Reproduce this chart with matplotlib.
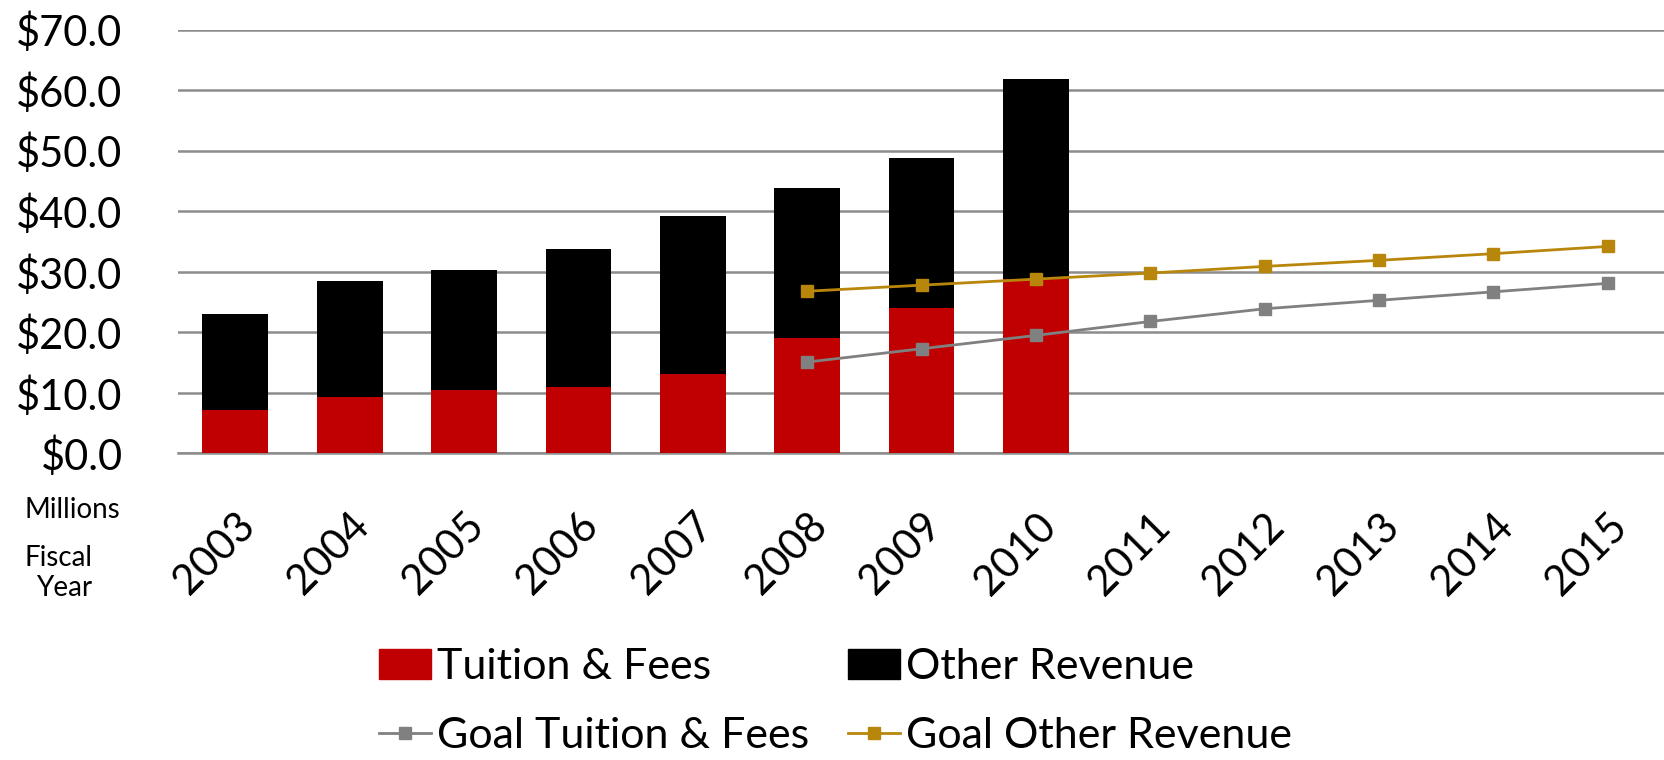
import matplotlib
matplotlib.use("Agg")
import matplotlib.pyplot as plt
import matplotlib.transforms as mtransforms
import numpy as np
from matplotlib.lines import Line2D
from matplotlib.patches import Patch

years = ["2003", "2004", "2005", "2006", "2007", "2008", "2009", "2010",
         "2011", "2012", "2013", "2014", "2015"]
tuition = [7.2, 9.3, 10.5, 11.0, 13.1, 19.1, 24.1, 28.9]
other = [15.9, 19.2, 19.8, 22.7, 26.2, 24.8, 24.7, 32.9]
goal_tuition_years = ["2008", "2009", "2010", "2011", "2012", "2013", "2014", "2015"]
goal_tuition = [15.1, 17.3, 19.5, 21.8, 23.9, 25.3, 26.7, 28.1]
goal_other = [26.8, 27.8, 28.8, 29.8, 30.9, 31.9, 33.0, 34.2]
yticks = [0, 10, 20, 30, 40, 50, 60, 70]

plt.rcParams['font.family'] = ['Lato', 'DejaVu Sans']

fig = plt.figure(figsize=(16.65, 7.6), dpi=100)
ax = fig.add_axes([0.107, 0.4033, 0.893, 0.5577])

x = np.arange(len(years))
xb = x[:len(tuition)]
ax.bar(xb, tuition, width=0.575, color='#C00000', zorder=3)
ax.bar(xb, other, width=0.575, bottom=tuition, color='#000000', zorder=3)

xg = [years.index(y) for y in goal_tuition_years]
ax.plot(xg, goal_tuition, color='#808080', lw=2.0, marker='s', ms=8, zorder=4)
ax.plot(xg, goal_other, color='#B8860B', lw=2.0, marker='s', ms=8, zorder=4)

ax.set_xlim(-0.5, len(years) - 0.5)
ax.set_ylim(0, 70)
ax.set_yticks(yticks)
ax.set_yticklabels([f"${v:.1f}" for v in yticks], fontsize=30)
ax.set_xticks(x)
ax.set_xticklabels(years, fontsize=30, rotation=45, ha='right', va='top',
                   rotation_mode='anchor')
offset = mtransforms.ScaledTranslation(-0.11, 0, fig.dpi_scale_trans)
for lab in ax.get_xticklabels():
    lab.set_transform(lab.get_transform() + offset)
ax.tick_params(axis='both', length=0)
ax.tick_params(axis='x', pad=38)
ax.tick_params(axis='y', pad=40)
ax.grid(axis='y', color='#8C8C8C', lw=1.8, zorder=0)
for s in ['top', 'right', 'left']:
    ax.spines[s].set_visible(False)
ax.spines['bottom'].set_color('#8C8C8C')
ax.spines['bottom'].set_linewidth(1.8)

fig.text(0.0721, 0.3184, "Millions", fontsize=20, ha='right', va='baseline')
fig.text(0.0553, 0.2553, "Fiscal", fontsize=20, ha='right', va='baseline')
fig.text(0.0553, 0.2158, "Year", fontsize=20, ha='right', va='baseline')

handles = [Patch(color='#C00000'),
           Line2D([], [], color='#808080', lw=2.0, marker='s', ms=8),
           Patch(color='#000000'),
           Line2D([], [], color='#B8860B', lw=2.0, marker='s', ms=8)]
labels = ["Tuition & Fees", "Goal Tuition & Fees", "Other Revenue", "Goal Other Revenue"]
fig.legend(handles, labels, ncol=2, loc='center left', bbox_to_anchor=(0.2276, 0.0765),
           frameon=False, fontsize=31, handlelength=1.21, handletextpad=0.14,
           columnspacing=0.9, labelspacing=0.72, borderpad=0, borderaxespad=0)

fig.savefig("out.png", dpi=100)
